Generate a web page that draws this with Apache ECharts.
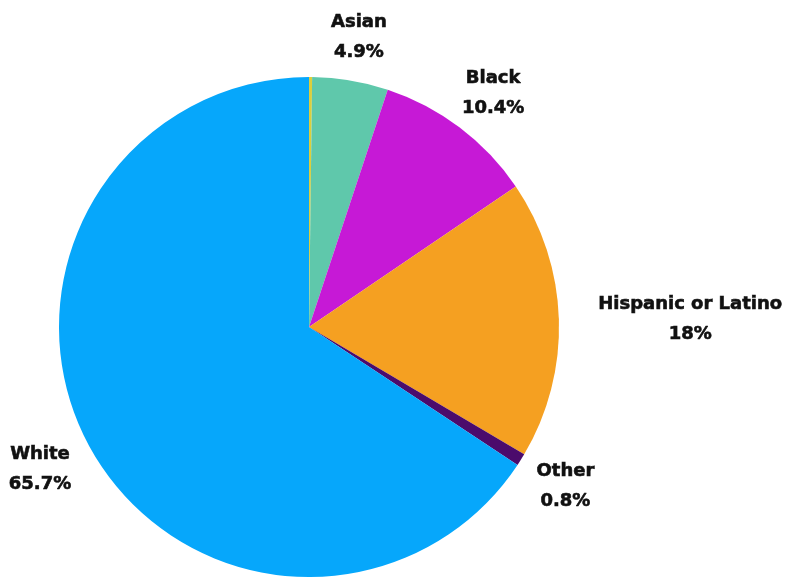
<!DOCTYPE html>
<html>
<head>
<meta charset="utf-8">
<script src="https://cdn.jsdelivr.net/npm/echarts@6/dist/echarts.min.js"></script>
<style>
  html, body { margin: 0; padding: 0; background: #ffffff; }
  #chart { width: 804px; height: 577px; }
</style>
</head>
<body>
<div id="chart"></div>
<script>
// Population share by race / ethnicity (percent), clockwise from 12 o'clock
const categories = ['Native Hawaiian or Pacific Islander', 'Asian', 'Black', 'Hispanic or Latino', 'Other', 'White'];
const shares = [0.2, 4.9, 10.4, 18, 0.8, 65.7];
const showLabel = [false, true, true, true, true, true];
const sliceColors = ['#dccf3c', '#5fc8ab', '#c619d6', '#f5a021', '#4b0b6c', '#06a7fb'];

const chart = echarts.init(document.getElementById('chart'));

const center = [309, 327];
const radius = 250;
const total = shares.reduce((a, b) => a + b, 0);

// mid-angle of each slice, measured clockwise from the top
const midAngles = [];
let acc = 0;
shares.forEach(v => {
  midAngles.push(((acc + v / 2) / total) * 2 * Math.PI);
  acc += v;
});

chart.setOption({
  animation: false,
  series: [{
    type: 'pie',
    center: center,
    radius: radius,
    startAngle: 90,
    clockwise: true,
    silent: true,
    data: categories.map((name, i) => ({
      name: name,
      value: shares[i],
      itemStyle: { color: sliceColors[i] },
      label: { show: showLabel[i] }
    })),
    itemStyle: { borderWidth: 0 },
    label: {
      position: 'outside',
      formatter: '{b}\n{c}%',
      fontFamily: 'DejaVu Sans',
      fontWeight: 'bold',
      fontSize: 18,
      lineHeight: 30,
      color: '#111111',
      textBorderColor: '#111111',
      textBorderWidth: 0.6,
      align: 'center',
      overflow: 'none'
    },
    labelLine: { show: false },
    labelLayout: function (params) {
      const a = midAngles[params.dataIndex];
      const dx = Math.sin(a), dy = -Math.cos(a);
      const w = params.labelRect.width, h = params.labelRect.height;
      const off = 16;
      const cx = center[0] + dx * (radius + off) + dx * w / 2 * 1.25;
      const cy = center[1] + dy * (radius + off) + dy * h / 2 + 2;
      return { x: cx, y: cy, align: 'center', verticalAlign: 'middle' };
    }
  }]
});
</script>
</body>
</html>
